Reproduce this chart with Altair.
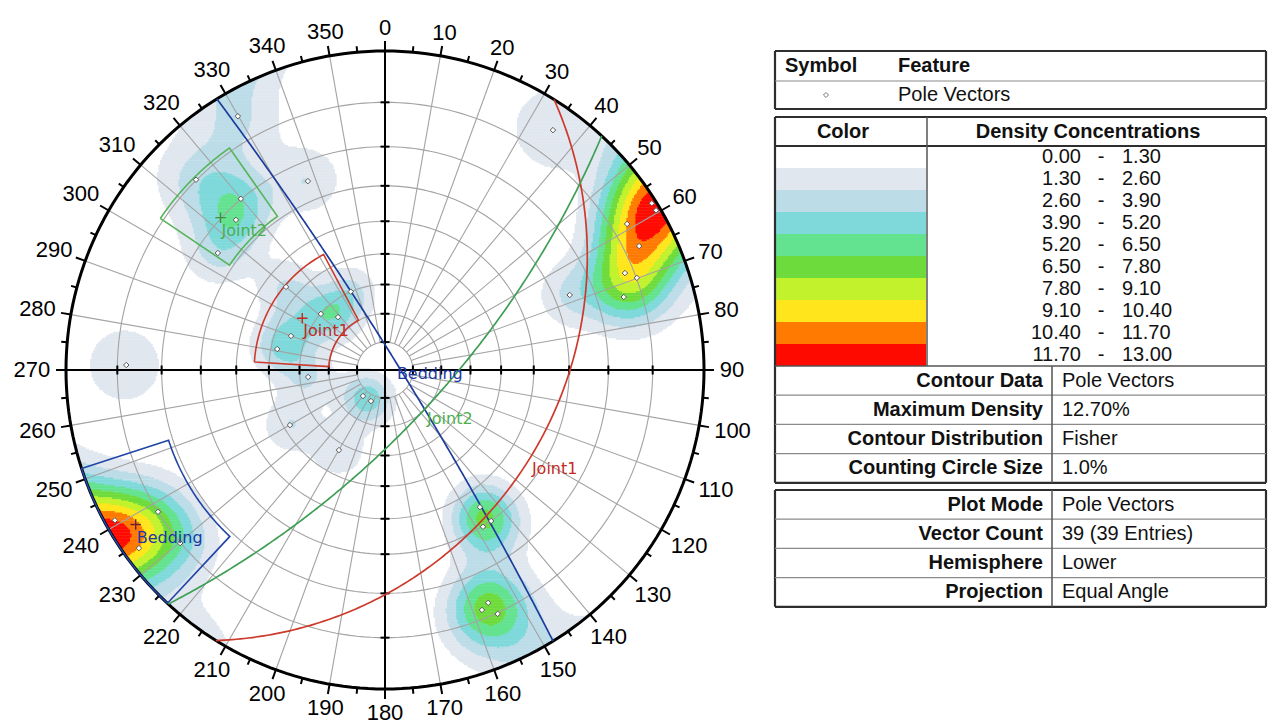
import numpy as np
import pandas as pd
import altair as alt

# ---------------- values ----------------
# pole vectors (trend, plunge in degrees), lower hemisphere
POLE_TREND = [329.9, 315.2, 319.9, 315.2, 305.0, 337.8, 310.0, 311.2, 318.4, 289.9,
              281.0, 271.1, 264.8, 336.4,
              35.0, 58.9, 64.0, 68.0, 69.9, 73.0, 67.9, 59.5, 58.0,
              220.2, 204.3, 239.9, 209.9,
              240.9, 238.0, 234.1, 229.8,
              145.3, 144.9, 148.0, 156.1, 158.0, 155.2]
POLE_PLUNGE = [4.8, 9.9, 19.9, 22.9, 24.8, 24.8, 45.9, 60.1, 65.0, 55.2,
               52.0, 11.9, 62.8, 60.0,
               4.9, 6.9, 6.9, 11.9, 9.9, 13.9, 26.0, 0.8, 0.8,
               77.8, 77.8, 52.0, 57.7,
               1.8, 10.0, 2.8, 9.9,
               34.8, 29.9, 29.8, 12.8, 11.9, 9.8]

SET_NAMES = ["Bedding", "Joint1", "Joint2"]
SET_MEAN_TREND = [238.2, 302.0, 312.8]
SET_MEAN_PLUNGE = [4.8, 56.0, 19.8]
SET_WIN_TREND_FROM = [223.0, 273.5, 304.0]
SET_WIN_TREND_TO = [252.0, 332.0, 325.0]
SET_WIN_PLUNGE_FROM = [0.0, 45.4, 9.3]
SET_WIN_PLUNGE_TO = [19.0, 70.0, 29.1]
GC_LABEL_TREND = [108.4, 124.0, 139.4]
GC_LABEL_PLUNGE = [85.5, 31.9, 67.1]

GRID_PLUNGE = [10, 20, 30, 40, 50, 60, 70, 80]
GRID_AZ = list(range(0, 360, 10))
TICK_AZ = list(range(0, 360, 5))
AZ_LABELS = list(range(0, 360, 10))

DENSITY_LOW = ["0.00", "1.30", "2.60", "3.90", "5.20", "6.50", "7.80", "9.10", "10.40", "11.70"]
DENSITY_HIGH = ["1.30", "2.60", "3.90", "5.20", "6.50", "7.80", "9.10", "10.40", "11.70", "13.00"]
DENSITY_STEP = 1.30

INFO1_LABELS = ["Contour Data", "Maximum Density", "Contour Distribution", "Counting Circle Size"]
INFO1_VALUES = ["Pole Vectors", "12.70%", "Fisher", "1.0%"]
INFO2_LABELS = ["Plot Mode", "Vector Count", "Hemisphere", "Projection"]
INFO2_VALUES = ["Pole Vectors", "39 (39 Entries)", "Lower", "Equal Angle"]

# ---------------- styles ----------------
DENSITY_COLORS = ["#ffffff", "#e1e7ef", "#bcdce8", "#7fd9da", "#63e28f",
                  "#6edb3d", "#c2f22c", "#ffe61c", "#ff7a00", "#ff0a00"]
SET_GC_COLORS = ["#1d3d9c", "#cc3a2c", "#3f9e55"]
SET_WIN_COLORS = ["#2145a6", "#cc3a2c", "#58b458"]
SET_TEXT_COLORS = ["#1a38a0", "#c42a1f", "#4caf4c"]
SET_CROSS_COLORS = ["#6a2030", "#c42a1f", "#3f8f3f"]
GRID_COLOR = "#a3a3a3"
FONT = "Liberation Sans"

# Fisher counting kernel
KAPPA = 80.0
PEAK = 2.5

# ---------------- helpers ----------------
def proj(trend, plunge):
    t = np.radians(np.asarray(trend, dtype=float))
    p = np.radians(np.asarray(plunge, dtype=float))
    r = np.tan((np.pi / 2 - p) / 2)
    return r * np.sin(t), r * np.cos(t)


def tovec(trend, plunge):
    t = np.radians(np.asarray(trend, dtype=float))
    p = np.radians(np.asarray(plunge, dtype=float))
    return np.stack([np.cos(p) * np.sin(t), np.cos(p) * np.cos(t), -np.sin(p)], axis=-1)


def totp(v):
    v = np.where(v[..., 2:3] > 0, -v, v)
    tr = np.degrees(np.arctan2(v[..., 0], v[..., 1])) % 360
    pl = np.degrees(np.arcsin(np.clip(-v[..., 2], -1, 1)))
    return tr, pl


def great_circle(dd, dip, n=241):
    a = np.radians(np.linspace(0, 180, n))
    s = np.array([np.sin(np.radians(dd - 90)), np.cos(np.radians(dd - 90)), 0.0])
    d = tovec(dd, dip)
    v = np.cos(a)[:, None] * s + np.sin(a)[:, None] * d
    tr, pl = totp(v)
    return proj(tr, pl)


# ---------------- layout of the stereonet view ----------------
PX = 319.0               # pixels per unit radius
LEFT_W, LEFT_H = 762, 712
CX_PX, CY_PX = 377.0, 362.0   # circle centre inside the view
X_MIN, X_MAX = -CX_PX / PX, (LEFT_W - CX_PX) / PX
Y_MIN, Y_MAX = -(LEFT_H - CY_PX) / PX, CY_PX / PX

xs_scale = alt.Scale(domain=[X_MIN, X_MAX], nice=False, zero=False)
ys_scale = alt.Scale(domain=[Y_MIN, Y_MAX], nice=False, zero=False)


def XE(f="x"):
    return alt.X(f"{f}:Q", scale=xs_scale, axis=None)


def YE(f="y"):
    return alt.Y(f"{f}:Q", scale=ys_scale, axis=None)


# ---------------- density grid (Fisher kernel on poles) ----------------
N = 420
step = 2.0 / N
cc = -1 + step * (np.arange(N) + 0.5)
GX, GY = np.meshgrid(cc, cc)
RR = np.hypot(GX, GY)
inside = RR <= 1.0
g_tr = np.degrees(np.arctan2(GX, GY))
g_pl = 90 - np.degrees(2 * np.arctan(RR))
G = tovec(g_tr, g_pl)
P = tovec(POLE_TREND, POLE_PLUNGE)
dots = np.abs(G @ P.T)
dens = PEAK * np.exp(KAPPA * (dots - 1)).sum(axis=-1)
level = np.clip(np.floor(dens / DENSITY_STEP), 0, 9).astype(int)
level[~inside] = 0

rects = []
for j in range(N):
    lv = level[j]
    i = 0
    while i < N:
        if lv[i] == 0:
            i += 1
            continue
        k = i
        while k + 1 < N and lv[k + 1] == lv[i]:
            k += 1
        rects.append(dict(x=cc[i] - step * 0.62, x2=cc[k] + step * 0.62,
                          y=cc[j] - step * 0.66, y2=cc[j] + step * 0.66,
                          lev=int(lv[i]), c=DENSITY_COLORS[lv[i]]))
        i = k + 1
dens_df = pd.DataFrame(rects).sort_values("lev")

# ---------------- grid ----------------
circ_rows = []
az_fine = np.linspace(0, 360, 241)
for p in GRID_PLUNGE:
    x, y = proj(az_fine, np.full_like(az_fine, p))
    for i, (a, b) in enumerate(zip(x, y)):
        circ_rows.append(dict(x=a, y=b, g=f"p{p}", i=i))
circ_df = pd.DataFrame(circ_rows)

rad_rows = []
for az in GRID_AZ:
    x0, y0 = proj(az, max(GRID_PLUNGE))
    x1, y1 = proj(az, 0)
    rad_rows.append(dict(x=float(x0), y=float(y0), x2=float(x1), y2=float(y1), c=GRID_COLOR, w=1.1))
rad_df = pd.DataFrame(rad_rows)

# primitive circle
ox, oy = proj(az_fine, np.zeros_like(az_fine))
outer_df = pd.DataFrame(dict(x=ox, y=oy, i=np.arange(len(ox))))

# ticks on the primitive and axes
tick_rows = []
for az in TICK_AZ:
    L = 10.0 if az % 10 == 0 else 6.0
    t = np.radians(az)
    tick_rows.append(dict(x=np.sin(t), y=np.cos(t), x2=np.sin(t) * (1 + L / PX),
                          y2=np.cos(t) * (1 + L / PX), c="#000000", w=2.0))
tick_rows.append(dict(x=-1.0, y=0.0, x2=1.0, y2=0.0, c="#000000", w=2.0))
tick_rows.append(dict(x=0.0, y=-1.0, x2=0.0, y2=1.0, c="#000000", w=2.0))
for p in GRID_PLUNGE:
    r = float(np.tan(np.radians(90 - p) / 2))
    h = 4.5 / PX
    for sgn in (-1, 1):
        tick_rows.append(dict(x=sgn * r, y=-h, x2=sgn * r, y2=h, c="#000000", w=2.0))
        tick_rows.append(dict(x=-h, y=sgn * r, x2=h, y2=sgn * r, c="#000000", w=2.0))
tick_df = pd.DataFrame(tick_rows)

# ---------------- sets ----------------
win_rows, gc_rows, mean_rows, gcl_rows = [], [], [], []
for k, name in enumerate(SET_NAMES):
    ts = np.linspace(SET_WIN_TREND_FROM[k], SET_WIN_TREND_TO[k], 60)
    xo, yo = proj(ts, np.full_like(ts, SET_WIN_PLUNGE_FROM[k]))
    xi, yi = proj(ts[::-1], np.full_like(ts, SET_WIN_PLUNGE_TO[k]))
    xs = np.concatenate([xo, xi, xo[:1]])
    ys = np.concatenate([yo, yi, yo[:1]])
    for i, (a, b) in enumerate(zip(xs, ys)):
        win_rows.append(dict(x=a, y=b, g=name, i=i, c=SET_WIN_COLORS[k]))
    dd = (SET_MEAN_TREND[k] + 180) % 360
    dip = 90 - SET_MEAN_PLUNGE[k]
    gx, gy = great_circle(dd, dip)
    for i, (a, b) in enumerate(zip(gx, gy)):
        gc_rows.append(dict(x=a, y=b, g=name, i=i, c=SET_GC_COLORS[k]))
    mx, my = proj(SET_MEAN_TREND[k], SET_MEAN_PLUNGE[k])
    mean_rows.append(dict(x=float(mx), y=float(my), t=name, c=SET_TEXT_COLORS[k], cc=SET_CROSS_COLORS[k]))
    lx, ly = proj(GC_LABEL_TREND[k], GC_LABEL_PLUNGE[k])
    gcl_rows.append(dict(x=float(lx), y=float(ly), t=name, c=SET_TEXT_COLORS[k]))
win_df = pd.DataFrame(win_rows)
gc_df = pd.DataFrame(gc_rows)
mean_df = pd.DataFrame(mean_rows)
gcl_df = pd.DataFrame(gcl_rows)

px_, py_ = proj(POLE_TREND, POLE_PLUNGE)
pole_df = pd.DataFrame(dict(x=px_, y=py_))

# azimuth labels
lab_rows = []
for az in AZ_LABELS:
    s = str(az)
    w = 12.4 * len(s)
    t = np.radians(az)
    off = 15.5 + np.hypot(np.sin(t) * w / 2, np.cos(t) * 8.0)
    rr = 1 + off / PX
    lab_rows.append(dict(x=rr * np.sin(t), y=rr * np.cos(t), t=s))
lab_df = pd.DataFrame(lab_rows)

# ---------------- stereonet layers ----------------
dens_layer = alt.Chart(dens_df).mark_rect(strokeWidth=0).encode(
    x=XE(), x2=alt.X2("x2"), y=YE(), y2=alt.Y2("y2"), color=alt.Color("c:N", scale=None))

circ_layer = alt.Chart(circ_df).mark_line(color=GRID_COLOR, strokeWidth=1.1).encode(
    x=XE(), y=YE(), detail="g:N", order="i:Q")


def rule_layer(df):
    return alt.Chart(df).mark_rule().encode(
        x=XE(), y=YE(), x2=alt.X2("x2"), y2=alt.Y2("y2"),
        color=alt.Color("c:N", scale=None), strokeWidth=alt.StrokeWidth("w:Q", scale=None))


outer_layer = alt.Chart(outer_df).mark_line(color="#000000", strokeWidth=3).encode(
    x=XE(), y=YE(), order="i:Q")

win_layer = alt.Chart(win_df).mark_line(strokeWidth=1.6).encode(
    x=XE(), y=YE(), detail="g:N", order="i:Q", color=alt.Color("c:N", scale=None))
gc_layer = alt.Chart(gc_df).mark_line(strokeWidth=1.7).encode(
    x=XE(), y=YE(), detail="g:N", order="i:Q", color=alt.Color("c:N", scale=None))

pole_layer = alt.Chart(pole_df).mark_point(shape="diamond", filled=True, fill="#ffffff",
                                           stroke="#555555", strokeWidth=1.0, size=30,
                                           opacity=1).encode(x=XE(), y=YE())

cross_layer = alt.Chart(mean_df).mark_point(shape="M-1,0L1,0M0,-1L0,1", filled=False,
                                            size=110, strokeWidth=1.4, opacity=1).encode(
    x=XE(), y=YE(), color=alt.Color("cc:N", scale=None))
mean_text = alt.Chart(mean_df).mark_text(font="DejaVu Sans", fontSize=16, align="left",
                                         baseline="middle", dx=1, dy=13).encode(
    x=XE(), y=YE(), text="t:N", color=alt.Color("c:N", scale=None))
gcl_text = alt.Chart(gcl_df).mark_text(font="DejaVu Sans", fontSize=16, align="left",
                                       baseline="middle").encode(
    x=XE(), y=YE(), text="t:N", color=alt.Color("c:N", scale=None))
lab_text = alt.Chart(lab_df).mark_text(font=FONT, fontSize=22, align="center",
                                       baseline="middle", color="#000000").encode(
    x=XE(), y=YE(), text="t:N")

left = alt.layer(dens_layer, circ_layer, rule_layer(rad_df), rule_layer(tick_df), outer_layer,
                 win_layer, gc_layer, pole_layer, cross_layer, mean_text, gcl_text,
                 lab_text).properties(width=LEFT_W, height=LEFT_H)

# ---------------- info table view ----------------
RIGHT_W, RIGHT_H = 498, 712
RX0, RY0 = 770, 8
rx_scale = alt.Scale(domain=[RX0, RX0 + RIGHT_W], nice=False, zero=False)
ry_scale = alt.Scale(domain=[RY0, RY0 + RIGHT_H], nice=False, zero=False, reverse=True)


def RX(f="x"):
    return alt.X(f"{f}:Q", scale=rx_scale, axis=None)


def RY(f="y"):
    return alt.Y(f"{f}:Q", scale=ry_scale, axis=None)


TL, TR = 775, 1266
T1_TOP, T1_MID, T1_BOT = 51, 81, 109
T2_TOP, T2_HEAD = 117, 146
ROW_D = 22
DENS_END = T2_HEAD + ROW_D * len(DENSITY_LOW)
ROW_I = 29.2
T2_BOT = DENS_END + ROW_I * len(INFO1_LABELS)
T3_TOP = 490
T3_BOT = T3_TOP + ROW_I * len(INFO2_LABELS)
COLOR_DIV, INFO_DIV = 927, 1052
DARK, MID, LIGHT = "#2e2e2e", "#555555", "#8a8a8a"

lines = []


def hline(y, c, w, x0=TL, x1=TR):
    lines.append(dict(x=x0, x2=x1, y=y, y2=y, c=c, w=w))


def vline(x, y0, y1, c, w):
    lines.append(dict(x=x, x2=x, y=y0, y2=y1, c=c, w=w))


for top, bot in [(T1_TOP, T1_BOT), (T2_TOP, T2_BOT), (T3_TOP, T3_BOT)]:
    hline(top, DARK, 2.2)
    hline(bot, DARK, 2.2)
    vline(TL, top, bot, DARK, 2.2)
    vline(TR, top, bot, DARK, 2.2)
hline(T1_MID, LIGHT, 1.2)
hline(T2_HEAD, DARK, 1.8)
hline(DENS_END, MID, 1.6)
vline(COLOR_DIV, T2_TOP, DENS_END, MID, 1.5)
for k in range(1, len(INFO1_LABELS)):
    hline(DENS_END + ROW_I * k, LIGHT, 1.2)
for k in range(1, len(INFO2_LABELS)):
    hline(T3_TOP + ROW_I * k, LIGHT, 1.2)
vline(INFO_DIV, DENS_END, T2_BOT, MID, 1.5)
vline(INFO_DIV, T3_TOP, T3_BOT, MID, 1.5)
lines_df = pd.DataFrame(lines)

sw_rows = []
for i in range(1, len(DENSITY_LOW)):
    sw_rows.append(dict(x=TL + 1, x2=COLOR_DIV - 1, y=T2_HEAD + ROW_D * i,
                        y2=T2_HEAD + ROW_D * (i + 1), c=DENSITY_COLORS[i]))
sw_df = pd.DataFrame(sw_rows)

txt_left, txt_left_b, txt_right_b, txt_center, txt_center_b = [], [], [], [], []
txt_left_b.append(dict(x=785, y=(T1_TOP + T1_MID) / 2, t="Symbol"))
txt_left_b.append(dict(x=898, y=(T1_TOP + T1_MID) / 2, t="Feature"))
txt_left.append(dict(x=898, y=(T1_MID + T1_BOT) / 2, t="Pole Vectors"))
txt_center_b.append(dict(x=(TL + COLOR_DIV) / 2 - 8, y=(T2_TOP + T2_HEAD) / 2, t="Color"))
txt_center_b.append(dict(x=1088, y=(T2_TOP + T2_HEAD) / 2, t="Density Concentrations"))
txt_right = []
for i, (lo, hi) in enumerate(zip(DENSITY_LOW, DENSITY_HIGH)):
    yy = T2_HEAD + ROW_D * (i + 0.5)
    txt_right.append(dict(x=1081, y=yy, t=lo))
    txt_center.append(dict(x=1101, y=yy, t="-"))
    txt_left.append(dict(x=1122, y=yy, t=hi))
for k, (lab, val) in enumerate(zip(INFO1_LABELS, INFO1_VALUES)):
    yy = DENS_END + ROW_I * (k + 0.5)
    txt_right_b.append(dict(x=1043, y=yy, t=lab))
    txt_left.append(dict(x=1062, y=yy, t=val))
for k, (lab, val) in enumerate(zip(INFO2_LABELS, INFO2_VALUES)):
    yy = T3_TOP + ROW_I * (k + 0.5)
    txt_right_b.append(dict(x=1043, y=yy, t=lab))
    txt_left.append(dict(x=1062, y=yy, t=val))
sym_df = pd.DataFrame([dict(x=826, y=(T1_MID + T1_BOT) / 2)])


def tlayer(rows, align, weight):
    return alt.Chart(pd.DataFrame(rows)).mark_text(font=FONT, fontSize=20, align=align,
                                                   baseline="middle", fontWeight=weight,
                                                   color="#111111").encode(
        x=RX(), y=RY(), text="t:N")


right = alt.layer(
    alt.Chart(sw_df).mark_rect(strokeWidth=0).encode(
        x=RX(), x2=alt.X2("x2"), y=RY(), y2=alt.Y2("y2"), color=alt.Color("c:N", scale=None)),
    alt.Chart(lines_df).mark_rule().encode(
        x=RX(), x2=alt.X2("x2"), y=RY(), y2=alt.Y2("y2"),
        color=alt.Color("c:N", scale=None), strokeWidth=alt.StrokeWidth("w:Q", scale=None)),
    alt.Chart(sym_df).mark_point(shape="diamond", filled=True, fill="#ffffff", stroke="#777777",
                                 strokeWidth=1.0, size=26, opacity=1).encode(x=RX(), y=RY()),
    tlayer(txt_left, "left", "normal"),
    tlayer(txt_left_b, "left", "bold"),
    tlayer(txt_right_b, "right", "bold"),
    tlayer(txt_right, "right", "normal"),
    tlayer(txt_center, "center", "normal"),
    tlayer(txt_center_b, "center", "bold"),
).properties(width=RIGHT_W, height=RIGHT_H)

chart = alt.hconcat(left, right, spacing=0, bounds="flush",
                    padding={"left": 0, "top": 0, "right": 0, "bottom": 0}).configure_view(stroke=None)

chart.save("out.html", embed_options={"renderer": "svg", "actions": False})
